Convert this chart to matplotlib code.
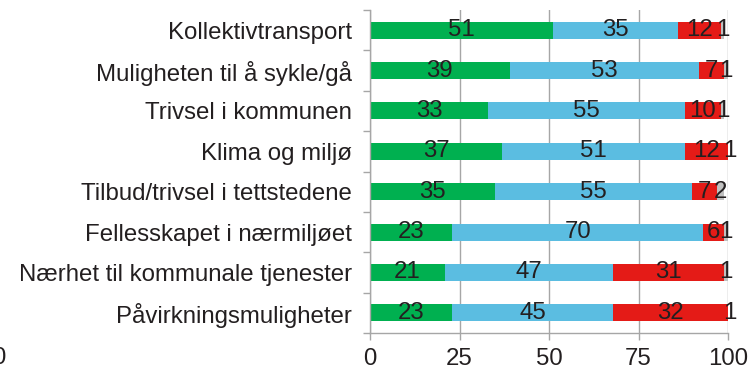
import matplotlib.pyplot as plt
import numpy as np

plt.rcParams["font.family"] = ["Liberation Sans", "DejaVu Sans"]

categories = [
    "Kollektivtransport",
    "Muligheten til å sykle/gå",
    "Trivsel i kommunen",
    "Klima og miljø",
    "Tilbud/trivsel i tettstedene",
    "Fellesskapet i nærmiljøet",
    "Nærhet til kommunale tjenester",
    "Påvirkningsmuligheter",
]
green = [51, 39, 33, 37, 35, 23, 21, 23]
blue = [35, 53, 55, 51, 55, 70, 47, 45]
red = [12, 7, 10, 12, 7, 6, 31, 32]
grey = [1, 1, 1, 1, 2, 1, 1, 1]
ticks = [0, 25, 50, 75, 100]

colors = ["#00b050", "#5bbde1", "#e41b17", "#c0c0c0"]
text_col = "#231f20"
axis_col = "#a6a6a6"
fs = 17.3

fig = plt.figure(figsize=(7.51, 3.71), dpi=100)
ax = fig.add_axes([370 / 751, 1 - 333 / 371, 358 / 751, 323 / 371])

y = np.arange(len(categories))
left = np.zeros(len(categories))
for vals, c in zip([green, blue, red, grey], colors):
    vals = np.array(vals)
    ax.barh(y, vals, left=left, height=0.42, color=c, zorder=2)
    for yi, l, v in zip(y, left, vals):
        ax.text(l + v / 2, yi, str(v), ha="center", va="center",
                fontsize=fs, color=text_col, zorder=3)
    left = left + vals

ax.set_xlim(0, 100)
ax.set_ylim(len(categories) - 0.5, -0.5)
ax.set_xticks(ticks)
ax.set_xticklabels([str(t) for t in ticks], fontsize=fs, color=text_col)
ax.set_yticks(y)
ax.set_yticklabels(categories, fontsize=fs, color=text_col)
ax.set_yticks(np.arange(len(categories) + 1) - 0.5, minor=True)
ax.tick_params(axis="y", which="major", length=0, pad=13)
ax.tick_params(axis="y", which="minor", length=5, color=axis_col, width=1)
ax.tick_params(axis="x", length=5, color=axis_col, width=1, pad=6)
ax.grid(axis="x", color=axis_col, linewidth=1, zorder=0)

for side in ["top", "right"]:
    ax.spines[side].set_visible(False)
for side in ["left", "bottom"]:
    ax.spines[side].set_color(axis_col)
    ax.spines[side].set_linewidth(1)

# stray tick label from the neighbouring panel
fig.text(-1 / 751, 1 - 358 / 371, "0", ha="center", va="center",
         fontsize=fs, color=text_col)

fig.savefig("out.png", dpi=100)
